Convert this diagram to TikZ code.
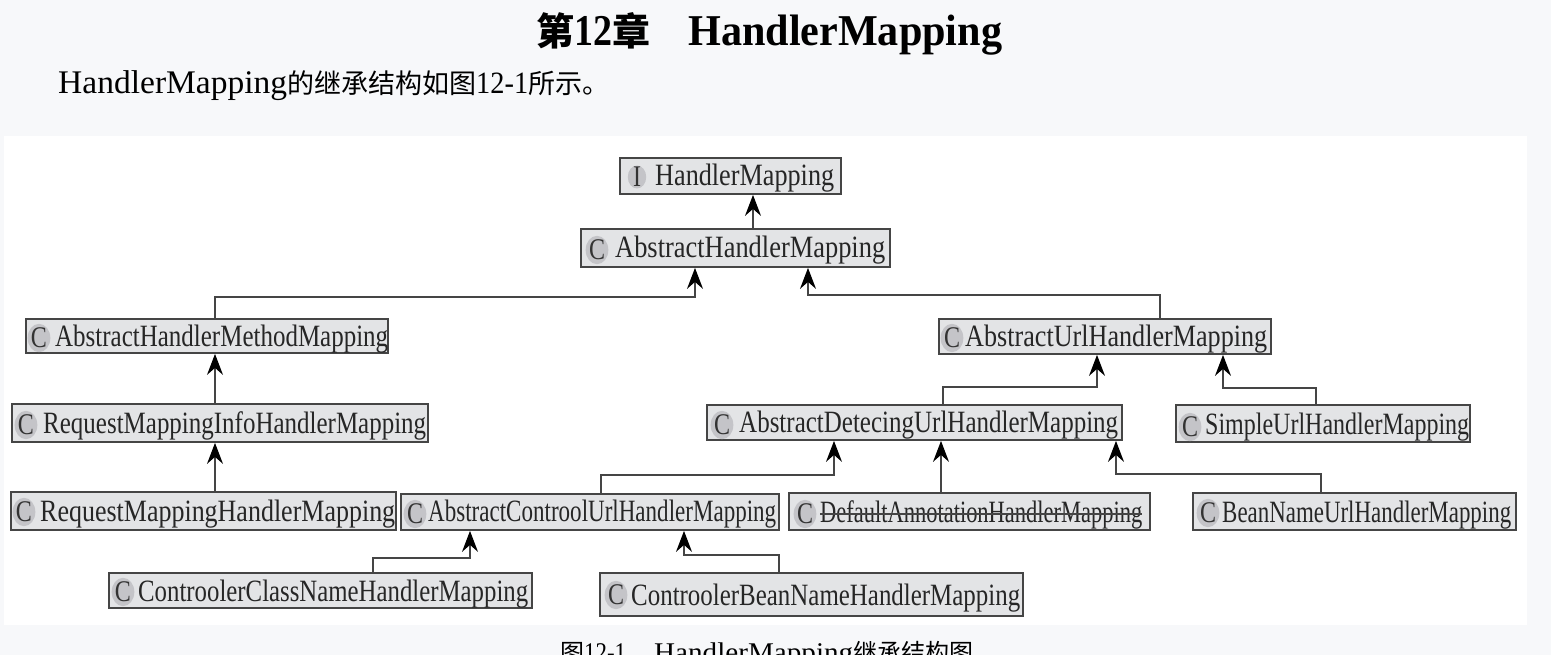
\documentclass[tikz,border=0pt]{standalone}
\usepackage{fontspec}
\usepackage{graphicx}
\setmainfont{Liberation Serif}
\newfontfamily\cjk{Noto Sans CJK SC}
\usetikzlibrary{arrows.meta}
\definecolor{pagebg}{HTML}{F7F8FA}
\definecolor{boxfill}{HTML}{E3E4E6}
\definecolor{boxline}{HTML}{454545}
\definecolor{badgefill}{HTML}{C4C4C8}
\newcommand{\fitname}[2]{\resizebox{#1pt}{\height}{#2}}
\tikzset{
  classbox/.style 2 args={draw=boxline, line width=1.8pt, fill=boxfill, minimum width=#1pt, minimum height=#2pt, inner sep=0pt},
  badge/.style={circle, fill=badgefill, minimum size=23pt, inner sep=0pt, text=black!80, font=\fontsize{30}{30}\selectfont, xscale=0.8},
  classname/.style={anchor=base west, inner sep=0pt, yshift=-1pt, text=black!85, font=\fontsize{31}{33}\selectfont},
  inherit/.style={draw=boxline, line width=1.4pt, -{Stealth[length=21pt,width=16pt,inset=7pt,black]}},
}
\begin{document}
\begin{tikzpicture}[x=1pt, y=-1pt]
      \useasboundingbox (0,0) rectangle (1551,655);
      % Page and white panel
      \fill[pagebg] (0,0) rectangle (1551,655);
      \fill[white] (4,136) rectangle (1527,625);

      % Heading lines
      \node[anchor=base west, inner sep=0pt, font=\fontsize{38}{40}\selectfont\bfseries] (title) at (536,46) {{\cjk 第}\resizebox{38pt}{\height}{\fontsize{44}{46}\selectfont 12}{\cjk 章}\hspace{38pt}\resizebox{314pt}{\height}{\fontsize{44}{46}\selectfont HandlerMapping}};
      \node[anchor=base west, inner sep=0pt, font=\fontsize{27}{30}\selectfont] (intro) at (58,94) {\resizebox{229pt}{\height}{\fontsize{33}{35}\selectfont HandlerMapping}{\cjk 的继承结构如图}\resizebox{52pt}{\height}{\fontsize{31}{33}\selectfont 12-1}{\cjk 所示。}};
      \node[anchor=base west, inner sep=0pt, font=\fontsize{24}{26}\selectfont] (caption) at (560,661) {{\cjk 图}\resizebox{42pt}{\height}{\fontsize{27}{29}\selectfont 12-1}\hspace{28pt}\resizebox{199pt}{\height}{\fontsize{27}{29}\selectfont HandlerMapping}{\cjk 继承结构图}};

      % Row 1 and 2
      \node[classbox={221}{36}] (hm) at (730.5,176) {};
      \node[badge] (hmC) at (637,177) {I};
      \node[classname] (hmT) at (655,185) {\fitname{179}{HandlerMapping}};
      \node[classbox={309}{38}] (ahm) at (735.5,248) {};
      \node[badge] (ahmC) at (597,250) {C};
      \node[classname] (ahmT) at (615,257) {\fitname{270}{AbstractHandlerMapping}};

      % Row 3
      \node[classbox={362}{34}] (meth) at (207,336) {};
      \node[badge] (methC) at (39,338) {C};
      \node[classname] (methT) at (55,345) {\fitname{333}{AbstractHandlerMethodMapping}};
      \node[classbox={332}{35}] (aurl) at (1105,336.5) {};
      \node[badge] (aurlC) at (952,338) {C};
      \node[classname] (aurlT) at (965,345) {\fitname{302}{AbstractUrlHandlerMapping}};

      % Row 4
      \node[classbox={416}{38}] (info) at (220,423) {};
      \node[badge] (infoC) at (26,425) {C};
      \node[classname] (infoT) at (43,432) {\fitname{383}{RequestMappingInfoHandlerMapping}};
      \node[classbox={415}{35}] (detect) at (914.5,422.5) {};
      \node[badge] (detectC) at (722,425) {C};
      \node[classname] (detectT) at (739,431) {\fitname{379}{AbstractDetecingUrlHandlerMapping}};
      \node[classbox={294}{37}] (simple) at (1323,423.5) {};
      \node[badge] (simpleC) at (1190,427) {C};
      \node[classname] (simpleT) at (1205,433) {\fitname{264}{SimpleUrlHandlerMapping}};

      % Row 5
      \node[classbox={385}{38}] (rmh) at (203.5,511) {};
      \node[badge] (rmhC) at (24,512) {C};
      \node[classname] (rmhT) at (40,520) {\fitname{355}{RequestMappingHandlerMapping}};
      \node[classbox={378}{36}] (actrl) at (590,512) {};
      \node[badge] (actrlC) at (415,514) {C};
      \node[classname] (actrlT) at (428,520) {\fitname{348}{AbstractControolUrlHandlerMapping}};
      \node[classbox={361}{37}] (dflt) at (969.5,511.5) {};
      \node[badge] (dfltC) at (805,514) {C};
      \node[classname] (dfltT) at (820,521) {\fitname{322}{DefaultAnnotationHandlerMapping}};
      \draw[boxline, line width=1.2pt] ([yshift=8pt]dfltT.base west) -- ([yshift=8pt]dfltT.base east);
      \node[classbox={323}{37}] (bean) at (1354.5,511.5) {};
      \node[badge] (beanC) at (1208,513) {C};
      \node[classname] (beanT) at (1222,521) {\fitname{289}{BeanNameUrlHandlerMapping}};

      % Row 6
      \node[classbox={423}{35}] (cname) at (320.5,590.5) {};
      \node[badge] (cnameC) at (123,592) {C};
      \node[classname] (cnameT) at (138,600) {\fitname{390}{ControolerClassNameHandlerMapping}};
      \node[classbox={423}{43}] (cbean) at (811.5,594.5) {};
      \node[badge] (cbeanC) at (616,595) {C};
      \node[classname] (cbeanT) at (631,604) {\fitname{389}{ControolerBeanNameHandlerMapping}};

      % Inheritance arrows
      \draw[inherit] (753,0 |- ahm.north) -- (753,0 |- hm.south);
      \draw[inherit] (215,0 |- meth.north) |- (695,297) -- (695,0 |- ahm.south);
      \draw[inherit] (1160,0 |- aurl.north) |- (808,295) -- (808,0 |- ahm.south);
      \draw[inherit] (215,0 |- info.north) -- (215,0 |- meth.south);
      \draw[inherit] (215,0 |- rmh.north) -- (215,0 |- info.south);
      \draw[inherit] (943,0 |- detect.north) |- (1097,387) -- (1097,0 |- aurl.south);
      \draw[inherit] (1316,0 |- simple.north) |- (1223,388) -- (1223,0 |- aurl.south);
      \draw[inherit] (601,0 |- actrl.north) |- (834,475) -- (834,0 |- detect.south);
      \draw[inherit] (941,0 |- dflt.north) -- (941,0 |- detect.south);
      \draw[inherit] (1321,0 |- bean.north) |- (1116,474) -- (1116,0 |- detect.south);
      \draw[inherit] (373,0 |- cname.north) |- (470,558) -- (470,0 |- actrl.south);
      \draw[inherit] (779,0 |- cbean.north) |- (684,555) -- (684,0 |- actrl.south);
    \end{tikzpicture}
\end{document}
